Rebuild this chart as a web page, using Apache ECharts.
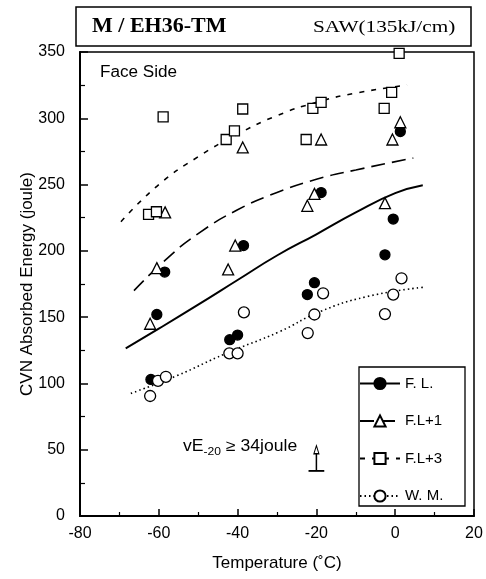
<!DOCTYPE html>
<html>
<head>
<meta charset="utf-8">
<script src="https://cdn.jsdelivr.net/npm/echarts@6/dist/echarts.min.js"></script>
<style>
html,body{margin:0;padding:0;background:#fff}
#chart{width:486px;height:579px}
</style>
</head>
<body>
<div id="chart"></div>
<script>
// measured points, [temperature, energy]
var flPoints = [[-62,103],[-60.5,152],[-58.5,184],[-42,133],[-40,136.5],[-38.5,204],[-22.3,167],[-20.5,176],[-18.8,244],[-2.6,197],[-0.5,224],[1.3,290]];
var fl1Points = [[-62.2,145],[-60.5,187],[-58.4,229],[-42.4,186],[-40.6,204],[-38.7,278],[-22.3,234],[-20.5,243],[-18.8,284],[-2.6,236],[-0.7,284],[1.3,297]];
var fl3Points = [[-62.6,227.5],[-60.6,229.5],[-58.9,301],[-42.9,284],[-40.8,290.5],[-38.7,307],[-22.6,284],[-20.9,307.5],[-18.8,312],[-2.8,307.5],[-0.9,319.5],[1,349]];
var wmPoints = [[-62.2,90.5],[-60.2,102],[-58.2,105],[-42.1,122.7],[-40,122.7],[-38.4,153.6],[-22.2,138],[-20.5,152],[-18.3,168],[-2.6,152.3],[-0.5,167],[1.6,179.3]];

// fitted curves
var flCurve = [[-68.4,126.5],[-60,141.3],[-50,159.4],[-40,178],[-30,196.5],[-20,212.5],[-10,229],[0,243.5],[7,249.5]];
var fl1Curve = [[-66.3,170],[-58,194],[-50,213],[-40,231],[-30,244],[-20,254],[-10,261],[4.6,270]];
var fl3Curve = [[-69.6,222],[-60,250],[-50,271],[-40,288],[-30,302],[-20,312],[-10,319],[3,325]];
var wmCurve = [[-67.1,92.5],[-55.6,105.6],[-42.9,122.7],[-29.4,139],[-19.2,154],[-7.3,165.4],[7.1,172.5]];

// vE-20 marker
var arrowStem = [[-20,34],[-20,50]];
var arrowBase = [[-22,34],[-18,34]];

var legendNames = ['F. L.', 'F.L+1', 'F.L+3', 'W. M.'];

var chart = echarts.init(document.getElementById('chart'));

function curve(name, data, sym, fill, dash, width) {
    return {
        name: name, type: 'line', data: data, smooth: true,
        showSymbol: false, symbol: sym, symbolSize: 10,
        lineStyle: {color: '#000', width: width, type: dash},
        itemStyle: {color: fill, borderColor: '#000', borderWidth: 1.3},
        emphasis: {disabled: true}, z: 2
    };
}
function points(name, data, sym, size, fill) {
    return {
        name: name, type: 'scatter', data: data, symbol: sym, symbolSize: size,
        itemStyle: {color: fill, borderColor: '#000', borderWidth: 1.3, opacity: 1},
        emphasis: {disabled: true}, z: 3
    };
}

var option = {
    animation: false,
    backgroundColor: '#fff',
    grid: {left: 80, right: 12, top: 52, bottom: 63, show: true, borderColor: '#000', borderWidth: 1.5},
    xAxis: {
        type: 'value', min: -80, max: 20, interval: 20,
        name: 'Temperature (\u02DAC)', nameLocation: 'middle', nameGap: 39,
        nameTextStyle: {fontSize: 17, color: '#000', fontFamily: 'Liberation Sans'},
        axisLine: {onZero: false, lineStyle: {color: '#000', width: 2}},
        axisTick: {inside: true, length: 7, lineStyle: {color: '#000', width: 1.5}},
        minorTick: {show: true, splitNumber: 2, length: 4, lineStyle: {color: '#000', width: 1.2}},
        axisLabel: {fontSize: 16, color: '#000', margin: 10, fontFamily: 'Liberation Sans'},
        splitLine: {show: false}
    },
    yAxis: {
        type: 'value', min: 0, max: 350, interval: 50,
        name: 'CVN Absorbed Energy (joule)', nameLocation: 'middle', nameGap: 44,
        nameMoveOverlap: false,
        nameTextStyle: {fontSize: 17, color: '#000', fontFamily: 'Liberation Sans'},
        axisLine: {onZero: false, lineStyle: {color: '#000', width: 2}},
        axisTick: {inside: true, length: 8, lineStyle: {color: '#000', width: 1.5}},
        minorTick: {show: true, splitNumber: 2, length: 5, lineStyle: {color: '#000', width: 1.2}},
        axisLabel: {fontSize: 16, color: '#000', margin: 15, fontFamily: 'Liberation Sans'},
        splitLine: {show: false}
    },
    legend: {
        data: legendNames, orient: 'vertical', left: 359, top: 376, padding: 0,
        itemWidth: 40, itemHeight: 14, itemGap: 22.5,
        textStyle: {fontSize: 15, color: '#000', fontFamily: 'Liberation Sans'},
        selectedMode: false
    },
    graphic: [
        {type: 'rect', shape: {x: 76, y: 7, width: 395, height: 39}, style: {fill: 'none', stroke: '#000', lineWidth: 1.5}},
        {type: 'text', x: 92, y: 27, scaleX: 1.1, style: {text: 'M / EH36-TM', font: 'bold 20px "Liberation Serif"', fill: '#000', verticalAlign: 'middle'}},
        {type: 'text', x: 313, y: 28, scaleX: 1.25, style: {text: 'SAW(135kJ/cm)', font: '17px "Liberation Serif"', fill: '#000', verticalAlign: 'middle'}},
        {type: 'text', x: 100, y: 73, scaleX: 1.07, style: {text: 'Face Side', font: '16px "Liberation Sans"', fill: '#000', verticalAlign: 'middle'}},
        {type: 'rect', shape: {x: 359, y: 367, width: 106, height: 139}, style: {fill: 'none', stroke: '#000', lineWidth: 1.3}},
        {type: 'text', x: 183, y: 439, scaleX: 1.1, style: {
            text: '{a|vE}{b|-20}{a| \u2265 34joule}',
            fill: '#000', verticalAlign: 'top',
            rich: {
                a: {fontSize: 16, lineHeight: 18, verticalAlign: 'top', fontFamily: 'Liberation Sans', fill: '#000'},
                b: {fontSize: 11, lineHeight: 10, verticalAlign: 'bottom', fontFamily: 'Liberation Sans', fill: '#000'}
            }
        }}
    ],
    series: [
        curve('F. L.', flCurve, 'circle', '#000', 'solid', 2),
        curve('F.L+1', fl1Curve, 'triangle', '#fff', [14, 7], 1.6),
        curve('F.L+3', fl3Curve, 'rect', '#fff', [5, 7], 1.6),
        curve('W. M.', wmCurve, 'circle', '#fff', [1.5, 3], 1.6),
        points('fl-pts', flPoints, 'circle', 10, '#000'),
        points('fl1-pts', fl1Points, 'triangle', 11, '#fff'),
        points('fl3-pts', fl3Points, 'rect', 10, '#fff'),
        points('wm-pts', wmPoints, 'circle', 11, '#fff'),
        {
            name: 'arrow', type: 'line', showSymbol: true,
            data: arrowStem.map(function (p, i) {
                return {value: p, symbol: i === 1 ? 'triangle' : 'none', symbolSize: [5, 8]};
            }),
            lineStyle: {color: '#000', width: 1.5},
            itemStyle: {color: '#fff', borderColor: '#000', borderWidth: 1.2},
            emphasis: {disabled: true}, z: 3
        },
        {
            name: 'base', type: 'line', showSymbol: false, symbol: 'none', data: arrowBase,
            lineStyle: {color: '#000', width: 1.8}, emphasis: {disabled: true}, z: 3
        }
    ]
};
chart.setOption(option);
</script>
</body>
</html>
